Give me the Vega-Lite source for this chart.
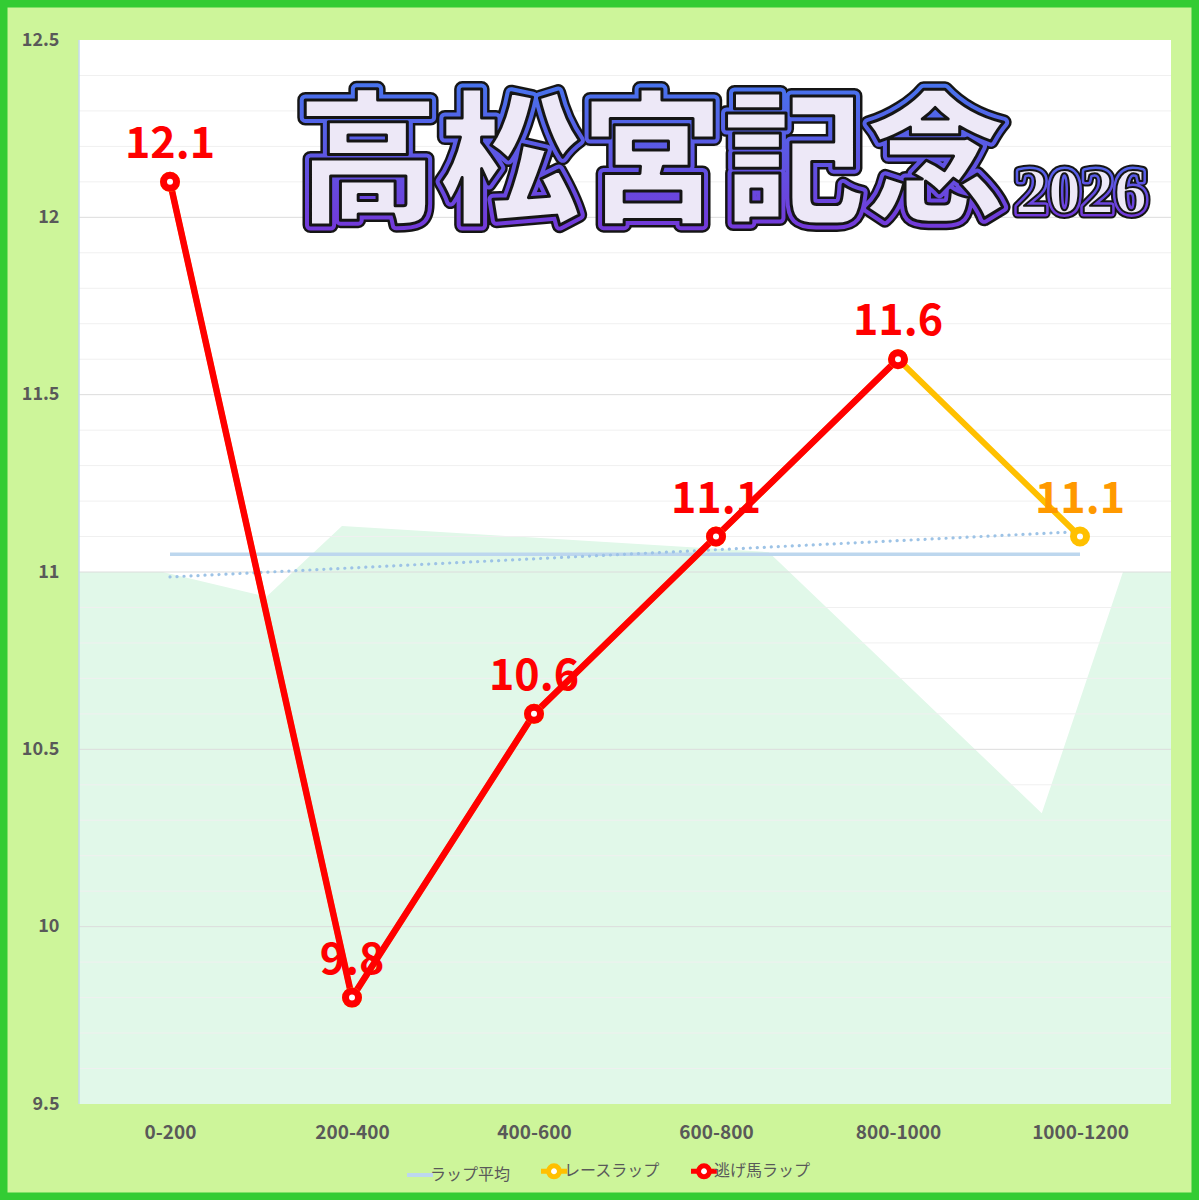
{
  "$schema": "https://vega.github.io/schema/vega-lite/v6.json",
  "width": 1199,
  "height": 1200,
  "autosize": {"type": "none"},
  "padding": 0,
  "background": "#CDF59A",
  "datasets": {
    "laps": [
      {"section": "0-200", "series": "レースラップ", "lap": 12.1},
      {"section": "200-400", "series": "レースラップ", "lap": 9.8},
      {"section": "400-600", "series": "レースラップ", "lap": 10.6},
      {"section": "600-800", "series": "レースラップ", "lap": 11.1},
      {"section": "800-1000", "series": "レースラップ", "lap": 11.6},
      {"section": "1000-1200", "series": "レースラップ", "lap": 11.1},
      {"section": "0-200", "series": "逃げ馬ラップ", "lap": 12.1},
      {"section": "200-400", "series": "逃げ馬ラップ", "lap": 9.8},
      {"section": "400-600", "series": "逃げ馬ラップ", "lap": 10.6},
      {"section": "600-800", "series": "逃げ馬ラップ", "lap": 11.1},
      {"section": "800-1000", "series": "逃げ馬ラップ", "lap": 11.6}
    ],
    "avg": [
      {"section": "0-200", "series": "ラップ平均", "lap": 11.05},
      {"section": "200-400", "series": "ラップ平均", "lap": 11.05},
      {"section": "400-600", "series": "ラップ平均", "lap": 11.05},
      {"section": "600-800", "series": "ラップ平均", "lap": 11.05},
      {"section": "800-1000", "series": "ラップ平均", "lap": 11.05},
      {"section": "1000-1200", "series": "ラップ平均", "lap": 11.05}
    ],
    "trend": [
      {"section": "0-200", "lap": 10.986},
      {"section": "1000-1200", "lap": 11.114}
    ],
    "grid": [
      {"v": 9.6, "kind": "minor"}, {"v": 9.7, "kind": "minor"}, {"v": 9.8, "kind": "minor"}, {"v": 9.9, "kind": "minor"},
      {"v": 10.0, "kind": "major"},
      {"v": 10.1, "kind": "minor"}, {"v": 10.2, "kind": "minor"}, {"v": 10.3, "kind": "minor"}, {"v": 10.4, "kind": "minor"},
      {"v": 10.5, "kind": "major"},
      {"v": 10.6, "kind": "minor"}, {"v": 10.7, "kind": "minor"}, {"v": 10.8, "kind": "minor"}, {"v": 10.9, "kind": "minor"},
      {"v": 11.0, "kind": "major"},
      {"v": 11.1, "kind": "minor"}, {"v": 11.2, "kind": "minor"}, {"v": 11.3, "kind": "minor"}, {"v": 11.4, "kind": "minor"},
      {"v": 11.5, "kind": "major"},
      {"v": 11.6, "kind": "minor"}, {"v": 11.7, "kind": "minor"}, {"v": 11.8, "kind": "minor"}, {"v": 11.9, "kind": "minor"},
      {"v": 12.0, "kind": "major"},
      {"v": 12.1, "kind": "minor"}, {"v": 12.2, "kind": "minor"}, {"v": 12.3, "kind": "minor"}, {"v": 12.4, "kind": "minor"}
    ],
    "mint": [
      {"pos": 0, "level": 11.0},
      {"pos": 0.46, "level": 11.0},
      {"pos": 1.03, "level": 10.93},
      {"pos": 1.445, "level": 11.13},
      {"pos": 3.79, "level": 11.056},
      {"pos": 5.29, "level": 10.32},
      {"pos": 5.736, "level": 11.0},
      {"pos": 6, "level": 11.0}
    ]
  },
  "layer": [
    {
      "data": {"values": [{}]},
      "mark": {"type": "rect", "fill": "#FFFFFF"},
      "encoding": {
        "x": {"datum": 0, "type": "quantitative", "scale": {"domain": [0, 6], "range": [79, 1171], "nice": false, "zero": false}, "axis": null},
        "x2": {"datum": 6},
        "y": {"datum": 9.5, "type": "quantitative", "scale": {"domain": [9.5, 12.5], "range": [1104, 40], "nice": false, "zero": false}, "axis": null},
        "y2": {"datum": 12.5}
      }
    },
    {
      "data": {"name": "mint"},
      "mark": {"type": "area", "fill": "#E1F8E9", "opacity": 1},
      "encoding": {
        "x": {"field": "pos", "type": "quantitative", "scale": {"domain": [0, 6], "range": [79, 1171], "nice": false, "zero": false}, "axis": null},
        "y": {"field": "level", "type": "quantitative", "scale": {"domain": [9.5, 12.5], "range": [1104, 40], "nice": false, "zero": false}, "axis": null},
        "y2": {"datum": 9.5}
      }
    },
    {
      "data": {"name": "grid"},
      "transform": [{"filter": "datum.kind === 'minor'"}],
      "mark": {"type": "rule", "stroke": "#F0F0F0", "strokeWidth": 1},
      "encoding": {
        "x": {"datum": 0, "type": "quantitative", "scale": {"domain": [0, 6], "range": [79, 1171], "nice": false, "zero": false}, "axis": null},
        "x2": {"datum": 6},
        "y": {"field": "v", "type": "quantitative", "scale": {"domain": [9.5, 12.5], "range": [1104, 40], "nice": false, "zero": false}, "axis": null}
      }
    },
    {
      "data": {"name": "grid"},
      "transform": [{"filter": "datum.kind === 'major'"}],
      "mark": {"type": "rule", "stroke": "#DCDCDC", "strokeWidth": 1},
      "encoding": {
        "x": {"datum": 0, "type": "quantitative", "scale": {"domain": [0, 6], "range": [79, 1171], "nice": false, "zero": false}, "axis": null},
        "x2": {"datum": 6},
        "y": {"field": "v", "type": "quantitative", "scale": {"domain": [9.5, 12.5], "range": [1104, 40], "nice": false, "zero": false}, "axis": null}
      }
    },
    {
      "data": {"values": [{}]},
      "mark": {"type": "rule", "stroke": "#C5DAEE", "strokeWidth": 1.5},
      "encoding": {
        "x": {"datum": 0, "type": "quantitative", "scale": {"domain": [0, 6], "range": [79, 1171], "nice": false, "zero": false}, "axis": null},
        "y": {"datum": 9.5, "type": "quantitative", "scale": {"domain": [9.5, 12.5], "range": [1104, 40], "nice": false, "zero": false}, "axis": null},
        "y2": {"datum": 12.5}
      }
    },
    {
      "data": {"values": [{}]},
      "mark": {"type": "text", "text": "高松宮記念", "font": "Noto Sans CJK JP", "fontWeight": 900, "fontSize": 142, "align": "center", "baseline": "middle", "fill": "#151515", "stroke": "#151515", "strokeWidth": 16, "strokeJoin": "round"},
      "encoding": {
        "x": {"datum": 3.148, "type": "quantitative", "scale": {"domain": [0, 6], "range": [79, 1171], "nice": false, "zero": false}, "axis": null},
        "y": {"datum": 12.14, "type": "quantitative", "scale": {"domain": [9.5, 12.5], "range": [1104, 40], "nice": false, "zero": false}, "axis": null}
      }
    },
    {
      "data": {"values": [{}]},
      "mark": {"type": "text", "text": "高松宮記念", "font": "Noto Sans CJK JP", "fontWeight": 900, "fontSize": 142, "align": "center", "baseline": "middle", "fill": "#EDE8F7", "strokeWidth": 11, "strokeJoin": "round",
        "stroke": {"gradient": "linear", "x1": 0, "y1": 0, "x2": 0, "y2": 1, "stops": [{"offset": 0, "color": "#3C82F2"}, {"offset": 1, "color": "#7A30D6"}]}},
      "encoding": {
        "x": {"datum": 3.148, "type": "quantitative", "scale": {"domain": [0, 6], "range": [79, 1171], "nice": false, "zero": false}, "axis": null},
        "y": {"datum": 12.14, "type": "quantitative", "scale": {"domain": [9.5, 12.5], "range": [1104, 40], "nice": false, "zero": false}, "axis": null}
      }
    },
    {
      "data": {"values": [{}]},
      "mark": {"type": "text", "text": "高松宮記念", "font": "Noto Sans CJK JP", "fontWeight": 900, "fontSize": 142, "align": "center", "baseline": "middle", "fill": "#EDE8F7", "stroke": "#151515", "strokeWidth": 3, "strokeJoin": "round"},
      "encoding": {
        "x": {"datum": 3.148, "type": "quantitative", "scale": {"domain": [0, 6], "range": [79, 1171], "nice": false, "zero": false}, "axis": null},
        "y": {"datum": 12.14, "type": "quantitative", "scale": {"domain": [9.5, 12.5], "range": [1104, 40], "nice": false, "zero": false}, "axis": null}
      }
    },
    {
      "data": {"values": [{}]},
      "mark": {"type": "text", "text": "2026", "font": "Liberation Serif", "fontWeight": "bold", "fontSize": 66, "align": "center", "baseline": "middle", "fill": "#151515", "stroke": "#151515", "strokeWidth": 11, "strokeJoin": "round"},
      "encoding": {
        "x": {"datum": 5.505, "type": "quantitative", "scale": {"domain": [0, 6], "range": [79, 1171], "nice": false, "zero": false}, "axis": null},
        "y": {"datum": 12.07, "type": "quantitative", "scale": {"domain": [9.5, 12.5], "range": [1104, 40], "nice": false, "zero": false}, "axis": null}
      }
    },
    {
      "data": {"values": [{}]},
      "mark": {"type": "text", "text": "2026", "font": "Liberation Serif", "fontWeight": "bold", "fontSize": 66, "align": "center", "baseline": "middle", "fill": "#EDE8F7", "strokeWidth": 7, "strokeJoin": "round",
        "stroke": {"gradient": "linear", "x1": 0, "y1": 0, "x2": 0, "y2": 1, "stops": [{"offset": 0, "color": "#4A6FEE"}, {"offset": 1, "color": "#7A30D6"}]}},
      "encoding": {
        "x": {"datum": 5.505, "type": "quantitative", "scale": {"domain": [0, 6], "range": [79, 1171], "nice": false, "zero": false}, "axis": null},
        "y": {"datum": 12.07, "type": "quantitative", "scale": {"domain": [9.5, 12.5], "range": [1104, 40], "nice": false, "zero": false}, "axis": null}
      }
    },
    {
      "data": {"values": [{}]},
      "mark": {"type": "text", "text": "2026", "font": "Liberation Serif", "fontWeight": "bold", "fontSize": 66, "align": "center", "baseline": "middle", "fill": "#EDE8F7", "stroke": "#151515", "strokeWidth": 2, "strokeJoin": "round"},
      "encoding": {
        "x": {"datum": 5.505, "type": "quantitative", "scale": {"domain": [0, 6], "range": [79, 1171], "nice": false, "zero": false}, "axis": null},
        "y": {"datum": 12.07, "type": "quantitative", "scale": {"domain": [9.5, 12.5], "range": [1104, 40], "nice": false, "zero": false}, "axis": null}
      }
    },
    {
      "data": {"name": "avg"},
      "mark": {"type": "line", "strokeWidth": 3.5},
      "encoding": {
        "x": {"field": "section", "type": "ordinal", "scale": {"type": "point", "domain": ["0-200", "200-400", "400-600", "600-800", "800-1000", "1000-1200"], "range": [79, 1171], "padding": 0.5},
          "axis": {"title": null, "orient": "bottom", "zindex": 1, "offset": -96, "ticks": false, "domain": false, "grid": false, "labelAngle": 0, "labelFont": "Noto Sans CJK JP", "labelFontSize": 19, "labelFontWeight": "bold", "labelColor": "#595959", "labelPadding": 19}},
        "y": {"field": "lap", "type": "quantitative", "scale": {"domain": [9.5, 12.5], "range": [1104, 40], "nice": false, "zero": false},
          "axis": {"title": null, "orient": "left", "zindex": 1, "offset": -79, "ticks": false, "domain": false, "grid": false, "values": [9.5, 10, 10.5, 11, 11.5, 12, 12.5], "format": "~g", "labelFont": "Noto Sans CJK JP", "labelFontSize": 18, "labelFontWeight": "bold", "labelColor": "#595959", "labelPadding": 20}},
        "color": {"field": "series", "type": "nominal",
          "scale": {"domain": ["ラップ平均", "レースラップ", "逃げ馬ラップ"], "range": ["#BDD7EE", "#FFC000", "#FF0000"]},
          "legend": {"title": null, "orient": "none", "legendX": 412, "legendY": 1163, "direction": "horizontal", "symbolSize": 676, "columnPadding": 20, "labelOffset": 2,
            "labelFont": "Noto Sans CJK JP", "labelFontSize": 16, "labelColor": "#595959",
            "encode": {"symbols": {"update": {
              "shape": {"signal": "datum.value === 'ラップ平均' ? 'stroke' : 'M-1,0L-0.42,0M0.42,0L1,0M-0.42,0A0.42,0.42 0 1,1 0.42,0A0.42,0.42 0 1,1 -0.42,0Z'"},
              "strokeWidth": {"signal": "datum.value === 'ラップ平均' ? 4 : 5"},
              "fill": {"value": "#FFFFFF"},
              "opacity": {"value": 1}}}}}}
      }
    },
    {
      "data": {"name": "trend"},
      "mark": {"type": "line", "stroke": "#9DC3E6", "strokeWidth": 3.2, "strokeDash": [0.1, 6.9], "strokeCap": "round"},
      "encoding": {
        "x": {"field": "section", "type": "ordinal", "scale": {"type": "point", "domain": ["0-200", "200-400", "400-600", "600-800", "800-1000", "1000-1200"], "range": [79, 1171], "padding": 0.5}, "axis": null},
        "y": {"field": "lap", "type": "quantitative", "scale": {"domain": [9.5, 12.5], "range": [1104, 40], "nice": false, "zero": false}, "axis": null}
      }
    },
    {
      "data": {"name": "laps"},
      "transform": [{"filter": "datum.series === 'レースラップ'"}],
      "mark": {"type": "line", "strokeWidth": 6},
      "encoding": {
        "x": {"field": "section", "type": "ordinal", "scale": {"type": "point", "domain": ["0-200", "200-400", "400-600", "600-800", "800-1000", "1000-1200"], "range": [79, 1171], "padding": 0.5}, "axis": null},
        "y": {"field": "lap", "type": "quantitative", "scale": {"domain": [9.5, 12.5], "range": [1104, 40], "nice": false, "zero": false}, "axis": null},
        "color": {"field": "series", "type": "nominal", "scale": {"domain": ["ラップ平均", "レースラップ", "逃げ馬ラップ"], "range": ["#BDD7EE", "#FFC000", "#FF0000"]}, "legend": null}
      }
    },
    {
      "data": {"name": "laps"},
      "transform": [{"filter": "datum.series === '逃げ馬ラップ'"}],
      "mark": {"type": "line", "strokeWidth": 6.5},
      "encoding": {
        "x": {"field": "section", "type": "ordinal", "scale": {"type": "point", "domain": ["0-200", "200-400", "400-600", "600-800", "800-1000", "1000-1200"], "range": [79, 1171], "padding": 0.5}, "axis": null},
        "y": {"field": "lap", "type": "quantitative", "scale": {"domain": [9.5, 12.5], "range": [1104, 40], "nice": false, "zero": false}, "axis": null},
        "color": {"field": "series", "type": "nominal", "scale": {"domain": ["ラップ平均", "レースラップ", "逃げ馬ラップ"], "range": ["#BDD7EE", "#FFC000", "#FF0000"]}, "legend": null}
      }
    },
    {
      "data": {"name": "laps"},
      "transform": [{"filter": "datum.series === 'レースラップ'"}],
      "mark": {"type": "point", "shape": "circle", "filled": true, "fill": "#FFFFFF", "stroke": "#FFC000", "strokeWidth": 7, "size": 169, "opacity": 1},
      "encoding": {
        "x": {"field": "section", "type": "ordinal", "scale": {"type": "point", "domain": ["0-200", "200-400", "400-600", "600-800", "800-1000", "1000-1200"], "range": [79, 1171], "padding": 0.5}, "axis": null},
        "y": {"field": "lap", "type": "quantitative", "scale": {"domain": [9.5, 12.5], "range": [1104, 40], "nice": false, "zero": false}, "axis": null}
      }
    },
    {
      "data": {"name": "laps"},
      "transform": [{"filter": "datum.series === '逃げ馬ラップ'"}],
      "mark": {"type": "point", "shape": "circle", "filled": true, "fill": "#FFFFFF", "stroke": "#FF0000", "strokeWidth": 7, "size": 169, "opacity": 1},
      "encoding": {
        "x": {"field": "section", "type": "ordinal", "scale": {"type": "point", "domain": ["0-200", "200-400", "400-600", "600-800", "800-1000", "1000-1200"], "range": [79, 1171], "padding": 0.5}, "axis": null},
        "y": {"field": "lap", "type": "quantitative", "scale": {"domain": [9.5, 12.5], "range": [1104, 40], "nice": false, "zero": false}, "axis": null}
      }
    },
    {
      "data": {"name": "laps"},
      "transform": [{"filter": "datum.series === 'レースラップ' && datum.section === '1000-1200'"}],
      "mark": {"type": "text", "font": "Noto Sans CJK JP", "fontWeight": "bold", "fontSize": 43, "align": "center", "baseline": "alphabetic", "dy": -24, "fill": "#FF9900"},
      "encoding": {
        "x": {"field": "section", "type": "ordinal", "scale": {"type": "point", "domain": ["0-200", "200-400", "400-600", "600-800", "800-1000", "1000-1200"], "range": [79, 1171], "padding": 0.5}, "axis": null},
        "y": {"field": "lap", "type": "quantitative", "scale": {"domain": [9.5, 12.5], "range": [1104, 40], "nice": false, "zero": false}, "axis": null},
        "text": {"field": "lap", "type": "quantitative", "format": ".1f"}
      }
    },
    {
      "data": {"name": "laps"},
      "transform": [{"filter": "datum.series === '逃げ馬ラップ'"}],
      "mark": {"type": "text", "font": "Noto Sans CJK JP", "fontWeight": "bold", "fontSize": 43, "align": "center", "baseline": "alphabetic", "dy": -24, "fill": "#FF0000"},
      "encoding": {
        "x": {"field": "section", "type": "ordinal", "scale": {"type": "point", "domain": ["0-200", "200-400", "400-600", "600-800", "800-1000", "1000-1200"], "range": [79, 1171], "padding": 0.5}, "axis": null},
        "y": {"field": "lap", "type": "quantitative", "scale": {"domain": [9.5, 12.5], "range": [1104, 40], "nice": false, "zero": false}, "axis": null},
        "text": {"field": "lap", "type": "quantitative", "format": ".1f"}
      }
    }
  ],
  "resolve": {"scale": {"x": "independent", "y": "independent"}},
  "config": {
    "view": {"fill": "#CDF59A", "stroke": "#33CC33", "strokeWidth": 15}
  }
}
